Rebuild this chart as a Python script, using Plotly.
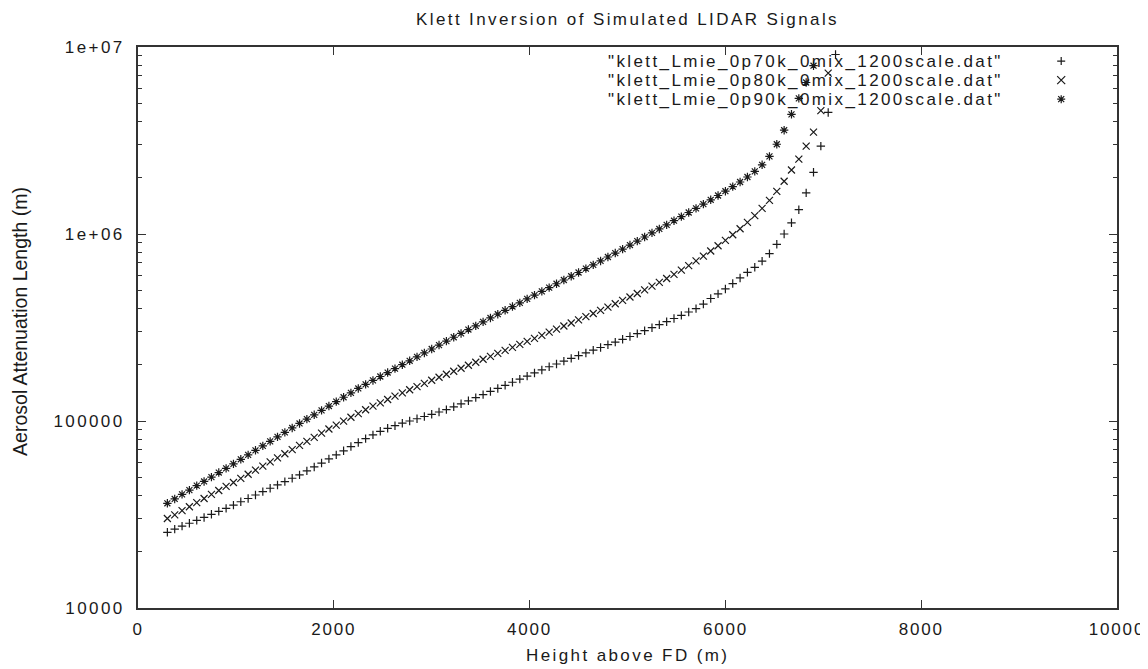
import plotly.graph_objects as go

# ---------------- data ----------------
heights = [300, 375, 450, 525, 600, 675, 750, 825, 900, 975, 1050, 1125, 1200, 1275,
           1350, 1425, 1500, 1575, 1650, 1725, 1800, 1875, 1950, 2025, 2100, 2175,
           2250, 2325, 2400, 2475, 2550, 2625, 2700, 2775, 2850, 2925, 3000, 3075,
           3150, 3225, 3300, 3375, 3450, 3525, 3600, 3675, 3750, 3825, 3900, 3975,
           4050, 4125, 4200, 4275, 4350, 4425, 4500, 4575, 4650, 4725, 4800, 4875,
           4950, 5025, 5100, 5175, 5250, 5325, 5400, 5475, 5550, 5625, 5700, 5775,
           5850, 5925, 6000, 6075, 6150, 6225, 6300, 6375, 6450, 6525, 6600, 6675,
           6750, 6825, 6900, 6975, 7050, 7125]

series_names = ['"klett_Lmie_0p70k_0mix_1200scale.dat"',
                '"klett_Lmie_0p80k_0mix_1200scale.dat"',
                '"klett_Lmie_0p90k_0mix_1200scale.dat"']

atten_0p70k = [25400, 26400, 27400, 28400, 29400, 30500, 31700, 32900, 34100, 35500,
               37000, 38500, 40200, 41900, 43700, 45500, 47400, 49400, 51500, 54100,
               56800, 59600, 62700, 65900, 69300, 73000, 76700, 80500, 84300, 88100,
               91400, 94400, 97300, 100000, 102800, 105700, 108600, 111700, 115100, 119100,
               123600, 128200, 133400, 138400, 143900, 149300, 155200, 161100, 167500, 173800,
               180700, 187500, 195000, 201800, 208900, 216300, 223900, 231200, 239300, 247200,
               255900, 264200, 273500, 283100, 293100, 304100, 315500, 327300, 339600, 353200,
               367300, 382800, 399000, 421700, 451900, 478600, 508200, 543300, 582100, 623700,
               663700, 716100, 785200, 881000, 1000000, 1148000, 1349000, 1660000, 2138000, 2951000,
               4467000, 9120000]

atten_0p80k = [30100, 31500, 33200, 34800, 36600, 38500, 40500, 42500, 44700, 46900,
               49300, 51900, 54600, 57400, 60400, 63500, 66800, 70300, 74000, 77800,
               81800, 86100, 90600, 95100, 99800, 104700, 109600, 114800, 120000, 125000,
               130300, 135800, 141300, 146900, 152800, 158900, 165200, 171400, 177800, 184500,
               191400, 198600, 206100, 213800, 221800, 230100, 238800, 247700, 257000, 266700,
               276700, 287100, 298500, 309700, 322100, 334200, 347500, 361400, 375800, 390800,
               406400, 423600, 441600, 460300, 480800, 502300, 526000, 550800, 578100, 608100,
               641200, 677700, 717800, 762100, 810900, 865000, 924700, 990800, 1067000, 1153000,
               1253000, 1371000, 1514000, 1690000, 1914000, 2198000, 2512000, 2951000, 3508000, 4571000,
               7244000]

atten_0p90k = [36300, 38300, 40500, 42700, 45100, 47500, 50100, 53000, 55800, 59000,
               62400, 65900, 69700, 73600, 77800, 82200, 86900, 91800, 97000, 102300,
               107900, 114000, 120200, 127000, 134000, 141300, 149300, 157000, 164800, 173000,
               181600, 190500, 200000, 209900, 220300, 231200, 242700, 254700, 267300, 280500,
               293800, 308300, 322800, 338800, 355600, 372400, 390800, 409300, 428500, 449800,
               470900, 493200, 516400, 542000, 567500, 594300, 622300, 653100, 683900, 717800,
               753400, 790700, 829900, 873000, 916200, 963800, 1014000, 1064000, 1119000, 1178000,
               1239000, 1303000, 1371000, 1445000, 1524000, 1607000, 1694000, 1791000, 1897000, 2018000,
               2163000, 2344000, 2600000, 3020000, 3589000, 4365000, 5309000, 6457000, 7943000]

x_ticks = [0, 2000, 4000, 6000, 8000, 10000]
x_tick_labels = ["0", "2000", "4000", "6000", "8000", "10000"]
y_ticks = [1e4, 1e5, 1e6, 1e7]
y_tick_labels = ["10000", "100000", "1e+06", "1e+07"]

title_text = "Klett Inversion of Simulated LIDAR Signals"
x_title = "Height above FD (m)"
y_title = "Aerosol Attenuation Length (m)"

# ---------------- style ----------------
FONT = "Liberation Sans, Arial, Helvetica, sans-serif"
INK = "#1a1a1a"
AX = "#333333"
FS = 17
SP = 2.4


def spaced(s, sp=SP):
    return "<span style='letter-spacing:%spx'>%s</span>" % (sp, s)


series = [atten_0p70k, atten_0p80k, atten_0p90k]
symbols = ["cross-thin", "x-thin", "asterisk"]
sizes = [6, 7, 7]

fig = go.Figure()
for name, vals, sym, sz in zip(series_names, series, symbols, sizes):
    fig.add_trace(go.Scatter(
        x=heights[:len(vals)], y=vals, mode="markers", name=name,
        marker=dict(symbol=sym, size=sz, color=INK,
                    line=dict(color=INK, width=1.2)),
        showlegend=False, cliponaxis=False,
    ))

# minor ticks of the log axis (2..9 in each decade)
minor_vals = [m * d for d in (1e4, 1e5, 1e6) for m in range(2, 10)]

# the page body adds an 8 px offset, so the figure is 8 px smaller and the
# plot box lands at x 138..1117, y 47..608 of the window
fig.update_layout(
    width=1140, height=661,
    margin=dict(l=130, r=31, t=39, b=61, autoexpand=False),
    paper_bgcolor="white", plot_bgcolor="white",
    font=dict(family=FONT, size=FS, color=INK),
    title=dict(text=spaced(title_text), x=0.5, xref="paper", xanchor="center",
               y=1 - 11 / 661, yref="container", yanchor="middle",
               font=dict(family=FONT, size=FS, color=INK)),
    xaxis=dict(range=[0, 10000], tickmode="array", tickvals=x_ticks,
               ticktext=[spaced(t, 1.8) for t in x_tick_labels], automargin=False,
               ticks="inside", ticklen=8, tickwidth=1, tickcolor=AX,
               showline=True, linewidth=2, linecolor=AX, mirror="allticks",
               showgrid=False, zeroline=False, ticklabelstandoff=5,
               tickfont=dict(family=FONT, size=FS, color=INK)),
    yaxis=dict(type="log", range=[4, 7], tickmode="array", tickvals=y_ticks,
               ticktext=[spaced(t) for t in y_tick_labels], automargin=False,
               ticks="inside", ticklen=8, tickwidth=1, tickcolor=AX,
               minor=dict(tickmode="array", tickvals=minor_vals, ticks="inside",
                          ticklen=4, tickwidth=1, tickcolor=AX, showgrid=False),
               showline=True, linewidth=2, linecolor=AX, mirror="allticks",
               showgrid=False, zeroline=False, ticklabelstandoff=8,
               tickfont=dict(family=FONT, size=FS, color=INK)),
)

# axis titles
fig.add_annotation(text=spaced(x_title), xref="paper", yref="paper",
                   x=0.5, y=-47 / 561, xanchor="center", yanchor="middle",
                   showarrow=False, font=dict(family=FONT, size=FS, color=INK))
fig.add_annotation(text=y_title, xref="paper", yref="paper", textangle=-90,
                   x=-118 / 979, y=0.51, xanchor="center", yanchor="middle",
                   showarrow=False, font=dict(family=FONT, size=19.5, color=INK))

# ---- gnuplot-style key: right-justified text with a point sample on its right ----
row_y = [0.975, 0.941, 0.907]
key_paths = [
    "M-4,0H4M0,-4V4",
    "M-4,-4L4,4M-4,4L4,-4",
    "M-4,0H4M0,-4V4M-3,-3L3,3M-3,3L3,-3",
]
for name, ry, path in zip(series_names, row_y, key_paths):
    fig.add_annotation(text=spaced(name), xref="paper", yref="paper",
                       x=0.8856, y=ry, xanchor="right", yanchor="middle",
                       showarrow=False, font=dict(family=FONT, size=FS, color=INK))
    fig.add_shape(type="path", xref="paper", yref="paper",
                  xsizemode="pixel", ysizemode="pixel",
                  xanchor=0.943, yanchor=ry, path=path,
                  line=dict(color=INK, width=1.2))

fig.write_html("out.html")
